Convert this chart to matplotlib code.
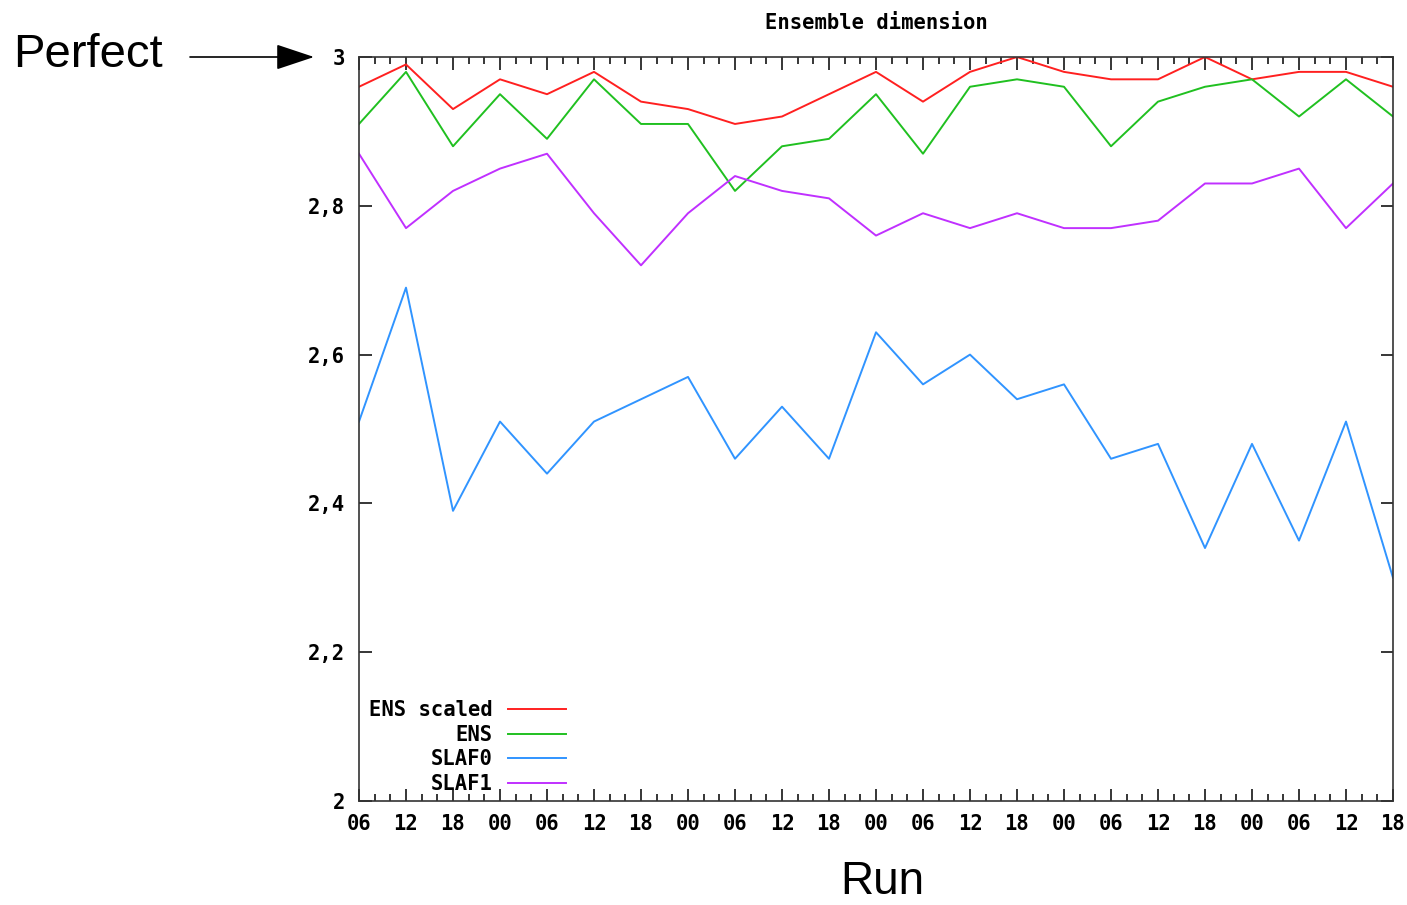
import matplotlib
matplotlib.use('Agg')
import matplotlib.pyplot as plt
from matplotlib.ticker import MultipleLocator, FuncFormatter
import numpy as np

# run hours along the x axis
runs = ['06', '12', '18', '00', '06', '12', '18', '00', '06', '12', '18', '00',
        '06', '12', '18', '00', '06', '12', '18', '00', '06', '12', '18']

ens_scaled = [2.96, 2.99, 2.93, 2.97, 2.95, 2.98, 2.94, 2.93, 2.91, 2.92, 2.95, 2.98,
              2.94, 2.98, 3.00, 2.98, 2.97, 2.97, 3.00, 2.97, 2.98, 2.98, 2.96]
ens = [2.91, 2.98, 2.88, 2.95, 2.89, 2.97, 2.91, 2.91, 2.82, 2.88, 2.89, 2.95,
       2.87, 2.96, 2.97, 2.96, 2.88, 2.94, 2.96, 2.97, 2.92, 2.97, 2.92]
slaf0 = [2.51, 2.69, 2.39, 2.51, 2.44, 2.51, 2.54, 2.57, 2.46, 2.53, 2.46, 2.63,
         2.56, 2.60, 2.54, 2.56, 2.46, 2.48, 2.34, 2.48, 2.35, 2.51, 2.30]
slaf1 = [2.87, 2.77, 2.82, 2.85, 2.87, 2.79, 2.72, 2.79, 2.84, 2.82, 2.81, 2.76,
         2.79, 2.77, 2.79, 2.77, 2.77, 2.78, 2.83, 2.83, 2.85, 2.77, 2.83]

series = [('ENS scaled', ens_scaled, '#ff2020'),
          ('ENS', ens, '#20c020'),
          ('SLAF0', slaf0, '#3094ff'),
          ('SLAF1', slaf1, '#c030ff')]

mono = {'family': 'DejaVu Sans Mono', 'weight': 'bold', 'size': 14.8}

fig = plt.figure(figsize=(14.07, 9.05), dpi=100)
ax = fig.add_axes([359/1407, 1 - 801/905, (1393-359)/1407, (801-57)/905])

x = np.arange(len(runs))
for name, vals, col in series:
    ax.plot(x, vals, color=col, lw=1.4, label=name)

ax.set_xlim(0, len(runs) - 1)
ax.set_ylim(2, 3)
ax.set_xticks(x)
ax.set_xticklabels(runs, fontdict=mono)
ax.xaxis.set_minor_locator(MultipleLocator(1/3))
ax.set_yticks([2, 2.2, 2.4, 2.6, 2.8, 3])
ax.yaxis.set_major_formatter(FuncFormatter(lambda v, p: ('%g' % round(v, 1)).replace('.', ',')))
for lab in ax.get_yticklabels():
    lab.set_fontproperties(matplotlib.font_manager.FontProperties(**mono))

ax.tick_params(which='both', direction='in', top=True, right=True, color='black')
ax.tick_params(which='major', length=9, width=1.1)
ax.tick_params(which='minor', length=5, width=1.1)
ax.tick_params(axis='x', pad=9)
ax.tick_params(axis='y', pad=10)
for sp in ax.spines.values():
    sp.set_linewidth(1.2)
    sp.set_color('#333333')

ax.set_title('Ensemble dimension', fontdict=mono, pad=20)

ax.legend(loc='lower left', bbox_to_anchor=(10/1034, 7/744), markerfirst=False,
          frameon=False, prop=mono, handlelength=2.8, handletextpad=0.75,
          labelspacing=0.22, borderpad=0, borderaxespad=0)

fig.text(13/1407, 1 - 55/905, 'Perfect', family='Liberation Sans', size=34, va='center', ha='left')
fig.text(882/1407, 1 - 882/905, 'Run', family='Liberation Sans', size=33, va='center', ha='center')
fig.add_artist(matplotlib.patches.FancyArrowPatch(
    (190/1407, 1 - 57/905), (314/1407, 1 - 57/905), transform=fig.transFigure,
    arrowstyle='-|>,head_length=1.2,head_width=0.4', mutation_scale=20,
    color='black', lw=1.2, shrinkA=0, shrinkB=0))

fig.savefig('out.png', dpi=100)
